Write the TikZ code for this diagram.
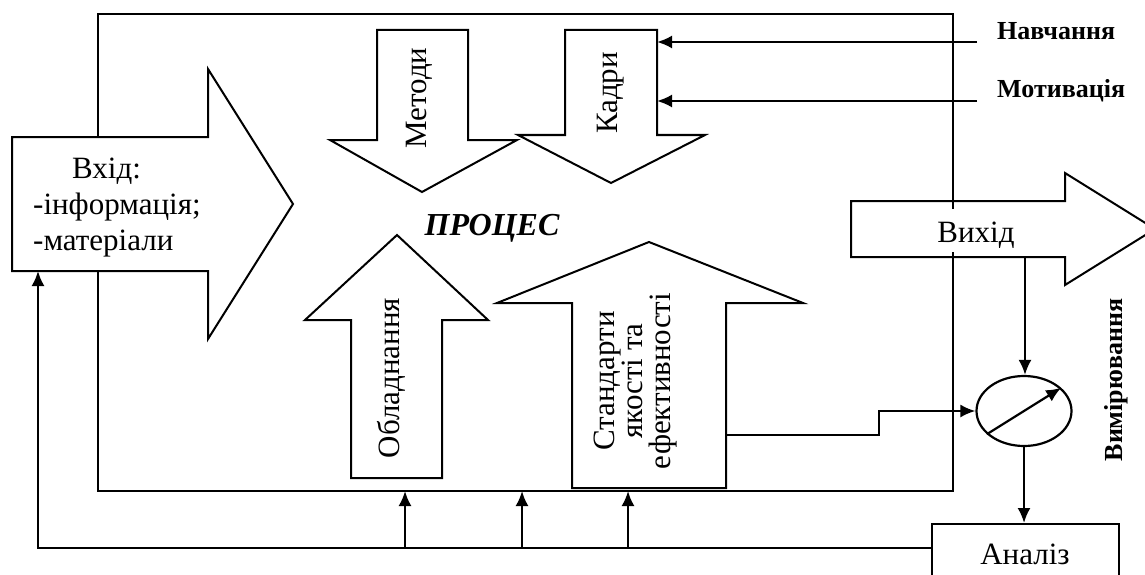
\documentclass[tikz,border=0pt]{standalone}
\usepackage{fontspec}
\setmainfont{Liberation Serif}
\usetikzlibrary{arrows.meta,shapes.geometric}
\tikzset{>={Latex[length=15pt,width=13pt]},
  frame/.style={line width=2.6pt},
  blockarr/.style={draw,line width=2pt,line join=miter},
  conn/.style={->,line width=2.2pt},
  lbl/.style={font=\fontsize{31}{36}\selectfont,inner sep=0pt},
  side/.style={font=\fontsize{26}{30}\selectfont\bfseries,inner sep=0pt}}

\begin{document}
\begin{tikzpicture}[x=1pt,y=-1pt]
\useasboundingbox (0,0) rectangle (1145,575);
% process frame
\draw[frame] (98,137) -- (98,14) -- (953,14) -- (953,209);
\draw[frame] (98,271) -- (98,491) -- (953,491) -- (953,252);
% block arrows
\draw[blockarr] (12,137) -- (208,137) -- (208,69) -- (293,204) -- (208,339) -- (208,271) -- (38,271) coordinate (inB) -- (12,271) -- cycle;
\draw[blockarr] (377,30) -- (468,30) -- (468,140) -- (517,140) -- (422,192) -- (330,140) -- (377,140) -- cycle;
\draw[blockarr] (565,30) -- (657,30) -- (657,42) coordinate (kadN) -- (657,101) coordinate (kadM) -- (657,135) -- (705,135) -- (611,183) -- (518,135) -- (565,135) -- cycle;
\draw[blockarr] (351,478) -- (442,478) -- (442,320) -- (488,320) -- (397,235) -- (305,320) -- (351,320) -- cycle;
\draw[blockarr] (572,488) -- (726,488) -- (726,435) coordinate (stdR) -- (726,303) -- (803,303) -- (649,242) -- (497,303) -- (572,303) -- cycle;
\draw[blockarr] (851,201) -- (1065,201) -- (1065,173) -- (1155,229) -- (1065,285) -- (1065,257) -- (1025,257) coordinate (outB) -- (851,257) -- cycle;
% texts
\node[lbl,anchor=base west,align=left] (vhid) at (33,250) {\hspace{39pt}Вхід:\\-інформація;\\-матеріали};
\node[lbl,rotate=90,anchor=base] (metody) at (426,98) {Методи};
\node[lbl,rotate=90,anchor=base] (kadry) at (617,93) {Кадри};
\node[lbl,rotate=90,anchor=base] (obl) at (399,378) {Обладнання};
\node[lbl,rotate=90,align=center,font=\fontsize{31}{28}\selectfont] (std) at (636,381) {Стандарти\\якості та\\ефективності};
\node[font=\fontsize{32}{36}\selectfont\bfseries\itshape,inner sep=0pt,anchor=base] (proc) at (492,235) {ПРОЦЕС};
\node[lbl,anchor=base] (vyhid) at (976,242) {Вихід};
\node[side,anchor=base west] (nav) at (997,40) {Навчання};
\node[side,anchor=base west] (mot) at (997,98) {Мотивація};
\node[side,rotate=90,anchor=base] (vym) at (1122,380) {Вимірювання};
% measuring and analysis
\node[draw,ellipse,line width=2.2pt,minimum width=95pt,minimum height=70pt] (meter) at (1024,411) {};
\draw[conn] (meter.212) -- (meter.32);
\node[lbl,draw,line width=2pt,anchor=north,minimum width=187pt,text height=22pt,text depth=30pt,inner ysep=18pt] (analiz) at (1025,523) {Аналіз};
\coordinate (navE) at (977,42);
\coordinate (motE) at (977,101);
\coordinate (fbR) at (932,548);
% connectors
\draw[conn] (navE) -- (kadN);
\draw[conn] (motE) -- (kadM);
\draw[conn] (outB) -- (outB |- meter.north);
\draw[conn] (stdR) -- ++(153,0) |- (meter.west);
\draw[conn] (meter.south) -- (meter.south |- analiz.north);
\draw[conn] (fbR) -| (inB);
\foreach \x [count=\i] in {405,522,628}{
  \coordinate (up\i) at (\x,491);
  \draw[conn] (up\i |- fbR) -- (up\i);}
\end{tikzpicture}
\end{document}
